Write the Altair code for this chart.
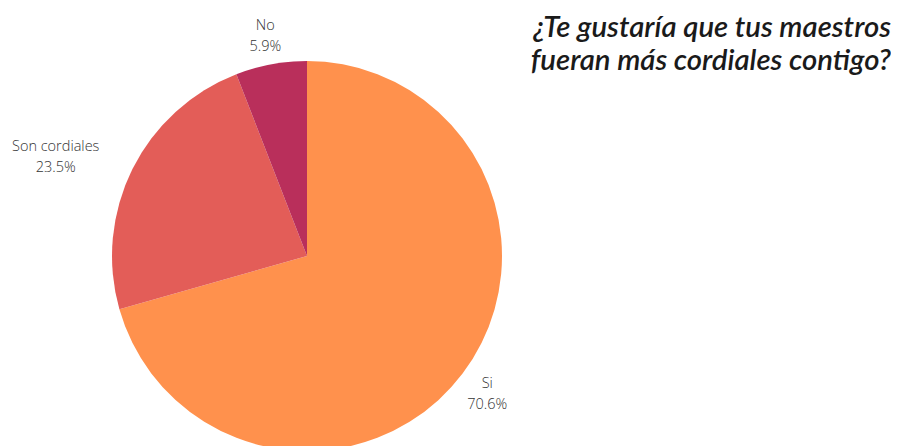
import altair as alt
import pandas as pd

categories = ["Si", "Son cordiales", "No"]
values = [70.6, 23.5, 5.9]
colors = ["#FF914D", "#E35D58", "#B92F5B"]

df = pd.DataFrame({"category": categories, "value": values, "idx": list(range(len(categories)))})

cx, cy = 299, 248
theta_scale = alt.Scale(domain=[0, 100])

pie = alt.Chart(df).mark_arc(outerRadius=195, stroke=None).encode(
    theta=alt.Theta("value:Q", stack=True, scale=theta_scale),
    order=alt.Order("idx:Q"),
    x=alt.value(cx), y=alt.value(cy),
    color=alt.Color("category:N", scale=alt.Scale(domain=categories, range=colors), legend=None),
)

label_common = dict(font="Open Sans", fontSize=14.5, fontWeight=300, color="#333333", lineBreak="\n",
                    align="center", baseline="middle", lineHeight=21, dy=-8)

lab_base = alt.Chart(df).transform_window(
    cum="sum(value)", sort=[alt.SortField("idx")]
).transform_calculate(
    mid="datum.cum - datum.value / 2",
    label="datum.category + '\\n' + format(datum.value, '.1f') + '%'",
)

labels = lab_base.transform_filter("datum.category != 'Son cordiales'").mark_text(
    radius=226, **label_common
).encode(
    theta=alt.Theta("mid:Q", stack=None, scale=theta_scale),
    x=alt.value(cx), y=alt.value(cy), text="label:N",
)

labels2 = lab_base.transform_filter("datum.category == 'Son cordiales'").mark_text(
    radius=226, dx=-49, **label_common
).encode(
    theta=alt.Theta("mid:Q", stack=None, scale=theta_scale),
    x=alt.value(cx), y=alt.value(cy), text="label:N",
)

chart = alt.layer(pie, labels, labels2).properties(
    width=883, height=438,
    autosize=alt.AutoSizeParams(type="none"),
    padding=0,
    title=alt.TitleParams(
        text=["¿Te gustaría que tus maestros", "fueran más cordiales contigo?"],
        font="Lato", fontSize=29.3, fontWeight=600, fontStyle="italic", color="#1a1a1a",
        anchor="end", align="right", frame="group", orient="top", dy=72, dx=0, lineHeight=33,
    ),
).configure_view(stroke=None)

chart.save("out.html", embed_options={"renderer": "svg", "actions": False})
